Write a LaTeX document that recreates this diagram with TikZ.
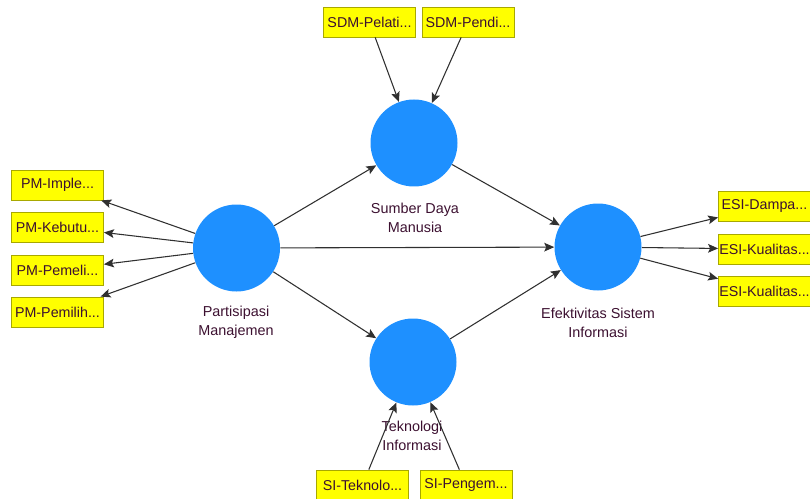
\documentclass[tikz,border=0pt]{standalone}
\usepackage{fontspec}
\setmainfont{Liberation Sans}
\usetikzlibrary{positioning,arrows.meta}
\definecolor{latent}{HTML}{1E90FF}
\definecolor{indfill}{HTML}{FFFF00}
\definecolor{indedge}{HTML}{A8A800}
\definecolor{ink}{HTML}{3C1030}
\definecolor{wire}{HTML}{303030}
\tikzset{
  lv/.style  ={circle, fill=latent, minimum size=65.25pt, inner sep=0pt},
  % indicator boxes: yellow with a thin olive border
  ind/.style ={draw=indedge, fill=indfill, line width=0.6pt,
               minimum width=69pt, minimum height=22.5pt, inner xsep=0pt,
               font=\fontsize{10.7}{12}\selectfont, text=ink},
  lbl/.style ={align=center, font=\fontsize{10.8}{14.3}\selectfont, text=ink},
  link/.style={-{Stealth[length=7.5pt,width=6.5pt,inset=1.5pt]}, wire, line width=0.8pt},
}

\begin{document}
\begin{tikzpicture}[x=0.75pt, y=-0.75pt]
    \useasboundingbox (0,0) rectangle (810,499);
    % latent variables
    \node[lv] (PM)  at (236.5,248) {};
    \node[lv] (SDM) at (414,143) {};
    \node[lv] (TI)  at (413,362) {};
    \node[lv] (ESI) at (598,247) {};
    \node[lbl] (PMt)  at (236,322.5) {Partisipasi\\Manajemen};
    \node[lbl] (SDMt) at (415,217.5) {Sumber Daya\\Manusia};
    \node[lbl] (TIt)  at (412,436) {Teknologi\\Informasi};
    \node[lbl] (ESIt) at (598,323) {Efektivitas Sistem\\Informasi};
    % indicators
    \node[ind] (PM1) at (57.5,185) {PM-Imple...};
    \node[ind] (PM2) at (57.5,227) {PM-Kebutu...};
    \node[ind] (PM3) at (57.5,270) {PM-Pemeli...};
    \node[ind] (PM4) at (57.5,312) {PM-Pemilih...};
    \node[ind] (SDM1) at (369.5,22) {SDM-Pelati...};
    \node[ind] (SDM2) at (468,22) {SDM-Pendi...};
    \node[ind] (SI1) at (362.5,485) {SI-Teknolo...};
    \node[ind] (SI2) at (466,485) {SI-Pengem...};
    \node[ind] (ESI1) at (764.5,206) {ESI-Dampa...};
    \node[ind] (ESI2) at (764.5,249) {ESI-Kualitas...};
    \node[ind] (ESI3) at (764.5,291) {ESI-Kualitas...};
    % outer model
    \foreach \i in {1,...,4} \draw[link] (PM) -- (PM\i);
    \foreach \i in {1,2} \draw[link] (SDM\i) -- (SDM);
    \foreach \i in {1,2} \draw[link] (SI\i) -- (TI);
    \foreach \i in {1,2,3} \draw[link] (ESI) -- (ESI\i);
    % inner model
    \draw[link] (PM) -- (SDM);
    \draw[link] (PM) -- (TI);
    \draw[link] (PM) -- (ESI);
    \draw[link] (SDM) -- (ESI);
    \draw[link] (TI) -- (ESI);
  \end{tikzpicture}
\end{document}
